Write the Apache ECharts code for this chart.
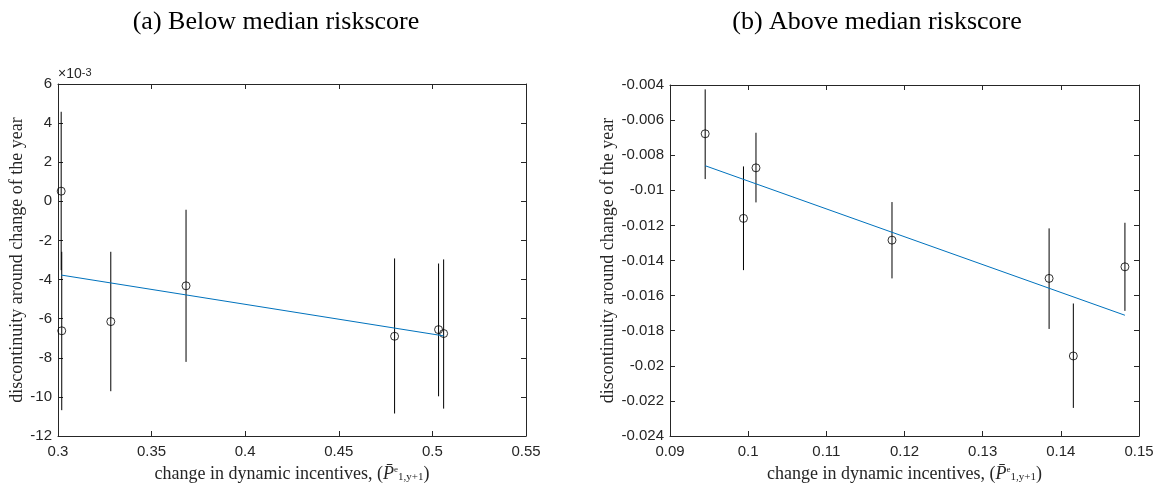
<!DOCTYPE html>
<html>
<head>
<meta charset="utf-8">
<script src="https://cdn.jsdelivr.net/npm/echarts@6/dist/echarts.min.js"></script>
<style>
  html, body { margin: 0; padding: 0; background: #fff; }
  #chart { width: 1161px; height: 483px; }
</style>
</head>
<body>
<div id="chart"></div>
<script>
// Panel (a): below median riskscore (y values in units of 1e-3)
const leftX    = [0.3017, 0.3020, 0.3282, 0.3684, 0.4798, 0.5033, 0.5060];
const leftY    = [0.52, -6.62, -6.15, -4.32, -6.90, -6.56, -6.76];
const leftLow  = [-3.52, -10.68, -9.71, -8.21, -10.85, -9.97, -10.60];
const leftHigh = [4.58, -2.58, -2.58, -0.43, -2.92, -3.18, -2.97];
const leftFitX = [0.3017, 0.5060];
const leftFitY = [-3.77, -6.88];

// Panel (b): above median riskscore
const rightX    = [0.0945, 0.0994, 0.1010, 0.1184, 0.1385, 0.1416, 0.1482];
const rightY    = [-0.00678, -0.01160, -0.00872, -0.01284, -0.01502, -0.01944, -0.01436];
const rightLow  = [-0.00936, -0.01455, -0.01069, -0.01502, -0.01790, -0.02240, -0.01687];
const rightHigh = [-0.00425, -0.00864, -0.00672, -0.01067, -0.01217, -0.01645, -0.01185];
const rightFitX = [0.0945, 0.1482];
const rightFitY = [-0.00860, -0.01712];

const panelTitles = ['(a) Below median riskscore', '(b) Above median riskscore'];
const yName = 'discontinuity around change of the year';

const AX = '#262626';
const SANS = '"Liberation Sans", Arial, sans-serif';
const SERIF = '"Liberation Serif", "Times New Roman", serif';

const xNameRich = {
  t: { fontFamily: SERIF, fontSize: 18, color: AX },
  p: { fontFamily: SERIF, fontSize: 18, fontStyle: 'italic', color: AX },
  sup: { fontFamily: SERIF, fontSize: 9, color: AX, verticalAlign: 'top', lineHeight: 10 },
  sub: { fontFamily: SERIF, fontSize: 11, color: AX, verticalAlign: 'bottom', lineHeight: 11, padding: [8, 0, 0, 0] }
};
const xNameText = '{t|change in dynamic incentives, (}{p|P\u0304}{sup|e}{sub|1,y+1}{t|)}';

function zip(a, b) { return a.map((v, i) => [v, b[i]]); }

function makeAxes(gi, xr, yr) {
  const line = { show: true, onZero: false, lineStyle: { color: AX, width: 1 } };
  const tick = { show: true, inside: true, length: 5, lineStyle: { color: AX, width: 1 } };
  const xs = [
    {
      type: 'value', gridIndex: gi, position: 'bottom',
      min: xr[0], max: xr[1], interval: xr[2],
      axisLine: line, axisTick: tick, splitLine: { show: false },
      axisLabel: { color: AX, fontFamily: SANS, fontSize: 15, margin: 8 },
      name: xNameText, nameLocation: 'middle', nameGap: 16,
      nameTextStyle: { rich: xNameRich }
    },
    {
      type: 'value', gridIndex: gi, position: 'top',
      min: xr[0], max: xr[1], interval: xr[2],
      axisLine: line, axisTick: tick, splitLine: { show: false },
      axisLabel: { show: false }
    }
  ];
  const ys = [
    {
      type: 'value', gridIndex: gi, position: 'left',
      min: yr[0], max: yr[1], interval: yr[2],
      axisLine: line, axisTick: tick, splitLine: { show: false },
      axisLabel: { color: AX, fontFamily: SANS, fontSize: 15, margin: 6 },
      name: yName, nameLocation: 'middle', nameGap: yr[3], nameRotate: 90,
      nameTextStyle: { fontFamily: SERIF, fontSize: 18, color: AX }
    },
    {
      type: 'value', gridIndex: gi, position: 'right',
      min: yr[0], max: yr[1], interval: yr[2],
      axisLine: line, axisTick: tick, splitLine: { show: false },
      axisLabel: { show: false }
    }
  ];
  return { xs, ys };
}

const A = makeAxes(0, [0.3, 0.55, 0.05], [-12, 6, 2, 31]);
const B = makeAxes(1, [0.09, 0.15, 0.01], [-0.024, -0.004, 0.002, 44]);

function errorBars(xi, yi, xs, lows, highs) {
  return {
    type: 'custom', xAxisIndex: xi, yAxisIndex: yi,
    data: xs.map((x, i) => [x, lows[i], highs[i]]),
    encode: { x: 0, y: [1, 2] },
    renderItem: function (params, api) {
      const lo = api.coord([api.value(0), api.value(1)]);
      const hi = api.coord([api.value(0), api.value(2)]);
      return {
        type: 'line',
        shape: { x1: lo[0], y1: lo[1], x2: hi[0], y2: hi[1] },
        style: { stroke: '#000', lineWidth: 1 }
      };
    },
    z: 2, silent: true
  };
}
function points(xi, yi, xs, ys) {
  return {
    type: 'scatter', xAxisIndex: xi, yAxisIndex: yi,
    data: zip(xs, ys), symbol: 'circle', symbolSize: 8,
    itemStyle: { color: 'rgba(0,0,0,0)', borderColor: '#000', borderWidth: 1 },
    z: 3, silent: true
  };
}
function fit(xi, yi, xs, ys) {
  return {
    type: 'line', xAxisIndex: xi, yAxisIndex: yi,
    data: zip(xs, ys), symbol: 'none',
    lineStyle: { color: '#0072BD', width: 1 },
    z: 4, silent: true, animation: false
  };
}

const chart = echarts.init(document.getElementById('chart'), null, { renderer: 'canvas' });
chart.setOption({
  animation: false,
  backgroundColor: '#fff',
  grid: [
    { left: 58, right: 635, top: 84, bottom: 47, containLabel: false, outerBoundsMode: 'none' },
    { left: 670, right: 22, top: 85, bottom: 47, containLabel: false, outerBoundsMode: 'none' }
  ],
  xAxis: A.xs.concat(B.xs),
  yAxis: A.ys.concat(B.ys),
  graphic: [
    { type: 'text', x: 276, y: 22, style: { text: panelTitles[0], font: '26px ' + SERIF, fill: '#000', textAlign: 'center', textVerticalAlign: 'middle' } },
    { type: 'text', x: 877, y: 22, style: { text: panelTitles[1], font: '26px ' + SERIF, fill: '#000', textAlign: 'center', textVerticalAlign: 'middle' } },
    { type: 'text', x: 58, y: 74, style: {
        text: '\u00d710{s|-3}', fill: AX, font: '14px ' + SANS, textVerticalAlign: 'middle',
        rich: { s: { fontFamily: SANS, fontSize: 11, fill: AX, verticalAlign: 'top', lineHeight: 8 } }
    } }
  ],
  series: [
    errorBars(0, 0, leftX, leftLow, leftHigh),
    points(0, 0, leftX, leftY),
    fit(0, 0, leftFitX, leftFitY),
    errorBars(2, 2, rightX, rightLow, rightHigh),
    points(2, 2, rightX, rightY),
    fit(2, 2, rightFitX, rightFitY)
  ]
});
</script>
</body>
</html>
